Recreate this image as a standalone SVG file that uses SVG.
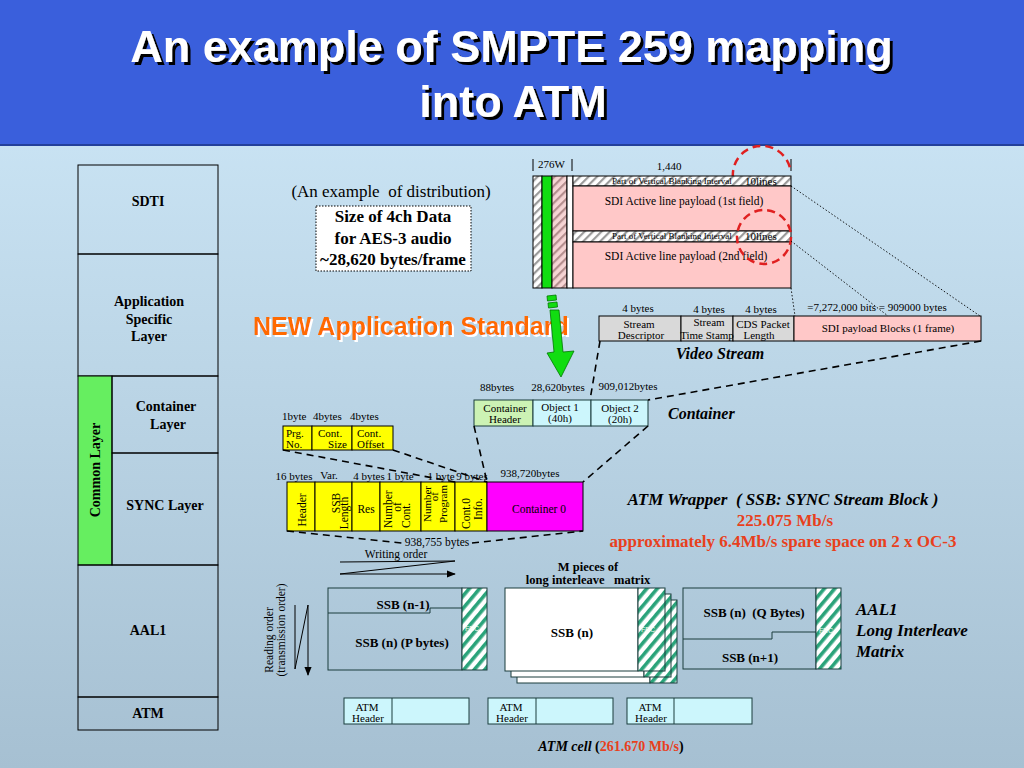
<svg xmlns="http://www.w3.org/2000/svg" width="1024" height="768" viewBox="0 0 1024 768">
<defs>
  <linearGradient id="bg" x1="0" y1="0" x2="0" y2="1">
    <stop offset="0" stop-color="#d0eafa"/>
    <stop offset="1" stop-color="#a6c0d2"/>
  </linearGradient>
  <pattern id="hGrey" patternUnits="userSpaceOnUse" width="6" height="6" patternTransform="rotate(45)">
    <rect width="6" height="6" fill="#ffffff"/><rect width="2.2" height="6" fill="#9a9a9a"/>
  </pattern>
  <pattern id="hPink" patternUnits="userSpaceOnUse" width="6" height="6" patternTransform="rotate(45)">
    <rect width="6" height="6" fill="#f6d4d4"/><rect width="2.2" height="6" fill="#b48e8e"/>
  </pattern>
  <pattern id="hFec" patternUnits="userSpaceOnUse" width="8" height="8" patternTransform="rotate(40)">
    <rect width="8" height="8" fill="#ffffff"/><rect width="3.6" height="8" fill="#2aa37a"/>
  </pattern>
  <marker id="arr" viewBox="0 0 10 10" refX="9" refY="5" markerWidth="9" markerHeight="9" orient="auto" markerUnits="userSpaceOnUse">
    <path d="M0,1 L10,5 L0,9 z" fill="#000"/>
  </marker>
  <filter id="shBlack" x="-5%" y="-20%" width="110%" height="140%">
    <feFlood flood-color="#000000"/>
    <feComposite in2="SourceAlpha" operator="in"/>
    <feOffset dx="3" dy="3" result="sh"/>
    <feMerge><feMergeNode in="sh"/><feMergeNode in="SourceGraphic"/></feMerge>
  </filter>
  <filter id="shWhite" x="-5%" y="-20%" width="110%" height="140%">
    <feFlood flood-color="#ffffff"/>
    <feComposite in2="SourceAlpha" operator="in"/>
    <feOffset dx="2" dy="2" result="sh"/>
    <feMerge><feMergeNode in="sh"/><feMergeNode in="SourceGraphic"/></feMerge>
  </filter>
</defs>
<style>
  .s{font-family:"Liberation Serif","Times New Roman",serif;fill:#000}
  .a{font-family:"Liberation Sans",Arial,sans-serif}
  .b{font-weight:bold}
  .i{font-style:italic}
  .c{text-anchor:middle}
  .e{text-anchor:end}
  .box{stroke:#000;stroke-width:1}
  .cell{stroke:#1a3c3c;stroke-width:1}
  .dash{stroke:#000;stroke-width:1.6;stroke-dasharray:7 5;fill:none}
  .dot{stroke:#000;stroke-width:0.9;stroke-dasharray:1.5 2;fill:none}
  .thin{stroke:#000;stroke-width:1;fill:none}
  .red{fill:#e8401c}
  .rc{stroke:#e02020;stroke-width:2.5;stroke-dasharray:8 5;fill:none}
</style>

<!-- background -->
<rect x="0" y="0" width="1024" height="768" fill="url(#bg)"/>
<rect x="0" y="0" width="1024" height="145" fill="#3a5fdc"/>
<line x1="0" y1="145" x2="1024" y2="145" stroke="#23409a" stroke-width="2"/>

<!-- title -->
<g id="title" class="a b c" font-size="45" fill="#fff" filter="url(#shBlack)">
  <text x="511.5" y="62">An example of SMPTE 259 mapping</text>
  <text x="513" y="117">into ATM</text>
</g>

<!-- left layer column -->
<g id="layer-sdti"><rect class="box" x="78" y="165" width="140" height="89" fill="none"/>
  <text class="s b c" x="148" y="206" font-size="14">SDTI</text></g>
<g id="layer-app"><rect class="box" x="78" y="254" width="140" height="122" fill="none"/>
  <text class="s b c" x="149" y="306" font-size="14">Application</text>
  <text class="s b c" x="149" y="324" font-size="14">Specific</text>
  <text class="s b c" x="149" y="341" font-size="14">Layer</text></g>
<g id="layer-common"><rect class="box" x="78" y="376" width="34" height="189" fill="#66ee60"/>
  <text class="s b c" font-size="14" transform="translate(100,470) rotate(-90)">Common Layer</text></g>
<g id="layer-container"><rect class="box" x="112" y="376" width="106" height="77" fill="none"/>
  <text class="s b c" x="166" y="411" font-size="14">Container</text>
  <text class="s b c" x="168" y="429" font-size="14">Layer</text></g>
<g id="layer-sync"><rect class="box" x="112" y="453" width="106" height="112" fill="none"/>
  <text class="s b c" x="165" y="510" font-size="14">SYNC Layer</text></g>
<g id="layer-aal1"><rect class="box" x="78" y="565" width="140" height="132" fill="none"/>
  <text class="s b c" x="148" y="635" font-size="14">AAL1</text></g>
<g id="layer-atm"><rect class="box" x="78" y="697" width="140" height="33" fill="none"/>
  <text class="s b c" x="148" y="718" font-size="14">ATM</text></g>

<!-- distribution note -->
<g id="note">
  <text class="s c" x="391" y="197" font-size="17" xml:space="preserve">(An example  of distribution)</text>
  <rect x="316" y="206" width="155" height="65" fill="#ffffff" stroke="#000" stroke-width="1" stroke-dasharray="1.5 1.5"/>
  <text class="s b c" x="393" y="222" font-size="17">Size of 4ch Data</text>
  <text class="s b c" x="393" y="244" font-size="17">for AES-3 audio</text>
  <text class="s b c" x="393" y="265" font-size="17">~28,620 bytes/frame</text>
</g>

<g id="new-standard" filter="url(#shWhite)">
  <text class="a b" x="253" y="335" font-size="25" fill="#ff6a00">NEW Application Standard</text>
</g>

<!-- SDI frame -->
<g id="sdi-frame">
  <line class="thin" x1="533" y1="159" x2="533" y2="171"/>
  <text class="s" x="538" y="168" font-size="11">276W</text>
  <line class="thin" x1="572" y1="159" x2="572" y2="171"/>
  <text class="s c" x="669" y="170" font-size="11">1,440</text>
  <line class="thin" x1="791" y1="159" x2="791" y2="171"/>
  <path class="rc" d="M733,178 A29,29 0 0 1 790,168"/>
  <rect class="box" x="533" y="176" width="9" height="112" fill="url(#hGrey)"/>
  <rect class="box" x="542" y="176" width="10" height="112" fill="#11dd11"/>
  <rect class="box" x="552" y="176" width="15" height="112" fill="url(#hPink)"/>
  <rect class="box" x="567" y="176" width="6" height="112" fill="#ffffff"/>
  <rect class="box" x="573" y="176" width="218" height="10" fill="url(#hGrey)"/>
  <rect class="box" x="573" y="186" width="218" height="45" fill="#ffc8c8"/>
  <rect class="box" x="573" y="231" width="218" height="11" fill="url(#hGrey)"/>
  <rect class="box" x="573" y="242" width="218" height="46" fill="#ffc8c8"/>
  <text class="s" x="612" y="184" font-size="9">Part of Vertical Blanking Interval</text>
  <text class="s" x="745" y="185" font-size="11">10lines</text>
  <text class="s" x="612" y="239" font-size="9">Part of Vertical Blanking Interval</text>
  <text class="s" x="745" y="240" font-size="11">10lines</text>
  <text class="s c" x="684" y="205" font-size="11.5">SDI Active line payload (1st field)</text>
  <text class="s c" x="686" y="260" font-size="11.5">SDI Active line payload (2nd field)</text>
  <circle class="rc" cx="764" cy="237" r="27"/>
</g>

<!-- video stream -->
<g id="video-stream">
  <text class="s c" x="638" y="312" font-size="11">4 bytes</text>
  <text class="s c" x="709" y="313" font-size="11">4 bytes</text>
  <text class="s c" x="761" y="313" font-size="11">4 bytes</text>
  <text class="s c" x="877" y="311" font-size="11">=7,272,000 bits = 909000 bytes</text>
  <rect class="box" x="599" y="316" width="82" height="25" fill="#d9d9d9"/>
  <rect class="box" x="681" y="316" width="52" height="25" fill="#d9d9d9"/>
  <rect class="box" x="733" y="316" width="61" height="25" fill="#d9d9d9"/>
  <rect class="box" x="794" y="316" width="187" height="25" fill="#ffc8c8"/>
  <text class="s c" x="639" y="328" font-size="11">Stream</text>
  <text class="s c" x="641" y="339" font-size="11">Descriptor</text>
  <text class="s c" x="709" y="326" font-size="11">Stream</text>
  <text class="s c" x="707" y="339" font-size="11">Time Stamp</text>
  <text class="s c" x="763" y="328" font-size="11">CDS Packet</text>
  <text class="s c" x="759" y="339" font-size="11">Length</text>
  <text class="s c" x="888" y="332" font-size="11">SDI payload Blocks (1 frame)</text>
  <text class="s b i c" x="720" y="359" font-size="16">Video Stream</text>
</g>

<!-- container -->
<g id="container">
  <text class="s c" x="497" y="391" font-size="11">88bytes</text>
  <text class="s c" x="558" y="391" font-size="11">28,620bytes</text>
  <text class="s c" x="628" y="390" font-size="11">909,012bytes</text>
  <rect class="cell" x="474" y="400" width="59" height="26" fill="#ccf2b4"/>
  <rect class="cell" x="533" y="400" width="58" height="26" fill="#ccf6fc"/>
  <rect class="cell" x="591" y="400" width="57" height="26" fill="#ccf6fc"/>
  <text class="s c" x="505" y="412" font-size="11">Container</text>
  <text class="s c" x="505" y="423" font-size="11">Header</text>
  <text class="s c" x="560" y="411" font-size="11">Object 1</text>
  <text class="s c" x="560" y="422" font-size="11">(40h)</text>
  <text class="s c" x="620" y="412" font-size="11">Object 2</text>
  <text class="s c" x="620" y="423" font-size="11">(20h)</text>
  <text class="s b i" x="668" y="419" font-size="16">Container</text>
</g>

<!-- green arrow -->
<g id="green-arrow" fill="#11dd11" stroke="#007700" stroke-width="0.8">
  <polygon points="547,296 556,295 556.5,300 547.5,301"/>
  <polygon points="548,303 557,302 557.5,307 548.5,308"/>
  <polygon points="550,310 559,310 563,352 574,351 561,377 547,353 554,352"/>
</g>

<!-- program table -->
<g id="program-info">
  <text class="s" x="282" y="420" font-size="11">1byte</text>
  <text class="s" x="313" y="420" font-size="11">4bytes</text>
  <text class="s" x="350" y="420" font-size="11">4bytes</text>
  <rect class="box" x="283" y="426" width="29" height="24" fill="#ffff00"/>
  <rect class="box" x="312" y="426" width="40" height="24" fill="#ffff00"/>
  <rect class="box" x="352" y="426" width="41" height="24" fill="#ffff00"/>
  <text class="s" x="286" y="437" font-size="11">Prg.</text>
  <text class="s" x="286" y="448" font-size="11">No.</text>
  <text class="s" x="318" y="437" font-size="11">Cont.</text>
  <text class="s e" x="347" y="448" font-size="11">Size</text>
  <text class="s" x="357" y="437" font-size="11">Cont.</text>
  <text class="s" x="357" y="448" font-size="11">Offset</text>
</g>

<!-- SSB -->
<g id="ssb">
  <text class="s c" x="294" y="480" font-size="11">16 bytes</text>
  <text class="s c" x="329" y="479" font-size="11">Var.</text>
  <text class="s c" x="369" y="480" font-size="11">4 bytes</text>
  <text class="s c" x="400" y="480" font-size="11">1 byte</text>
  <text class="s c" x="441" y="480" font-size="11">1 byte</text>
  <text class="s c" x="472" y="480" font-size="11">9 bytes</text>
  <text class="s c" x="530" y="477" font-size="11">938,720bytes</text>
  <rect class="box" x="287" y="482" width="28" height="49" fill="#ffff00"/>
  <rect class="box" x="315" y="482" width="37" height="49" fill="#ffff00"/>
  <rect class="box" x="352" y="482" width="28" height="49" fill="#ffff00"/>
  <rect class="box" x="380" y="482" width="41" height="49" fill="#ffff00"/>
  <rect class="box" x="421" y="482" width="34" height="49" fill="#ffff00"/>
  <rect class="box" x="455" y="482" width="32" height="49" fill="#ffff00"/>
  <rect class="box" x="487" y="482" width="96" height="49" fill="#ff00ff"/>
  <text class="s c" font-size="11.5" transform="translate(306,510) rotate(-90)">Header</text>
  <text class="s c" font-size="11.5" transform="translate(340,503) rotate(-90)">SSB</text>
  <text class="s c" font-size="11.5" transform="translate(348,513) rotate(-90)">Length</text>
  <text class="s c" x="366" y="513" font-size="11.5">Res</text>
  <text class="s" font-size="11.5" transform="translate(392,528) rotate(-90)">Number</text>
  <text class="s c" font-size="11.5" transform="translate(401,507) rotate(-90)">of</text>
  <text class="s" font-size="11.5" transform="translate(410,528) rotate(-90)">Cont.</text>
  <text class="s e" font-size="11" transform="translate(431,486) rotate(-90)">Number</text>
  <text class="s e" font-size="11" transform="translate(438,492) rotate(-90)">of</text>
  <text class="s e" font-size="11" transform="translate(447,485) rotate(-90)">Program</text>
  <text class="s e" font-size="11.5" transform="translate(470,498) rotate(-90)">Cont.0</text>
  <text class="s e" font-size="11.5" transform="translate(482,498) rotate(-90)">Info.</text>
  <text class="s c" x="539" y="513" font-size="11.5" fill="#7a007a">Container 0</text>
  <text class="s c" x="437" y="546" font-size="11.5">938,755 bytes</text>
</g>

<!-- ATM wrapper text -->
<g id="wrapper-label">
  <text class="s b i c" x="783" y="505" font-size="17" xml:space="preserve">ATM Wrapper  ( SSB: SYNC Stream Block )</text>
  <text class="s b c red" x="785" y="526" font-size="17">225.075 Mb/s</text>
  <text class="s b c red" x="783" y="547" font-size="17">approximately 6.4Mb/s spare space on 2 x OC-3</text>
</g>

<!-- order indicators -->
<g id="writing-order">
  <text class="s c" x="396" y="558" font-size="11.5">Writing order</text>
</g>
<g id="reading-order">
  <text class="s c" font-size="11.5" transform="translate(273,640) rotate(-90)">Reading order</text>
  <text class="s c" font-size="11.5" transform="translate(285,630) rotate(-90)">(transmission order)</text>
</g>

<!-- matrix 1 -->
<g id="matrix-1">
  <rect class="cell" x="328" y="588" width="134" height="82" fill="none"/>
  <rect class="cell" x="462" y="588" width="25" height="82" fill="url(#hFec)"/>
  <polyline class="cell" fill="none" points="328,613 430,613 430,608 462,608"/>
  <text class="s b c" x="403" y="609" font-size="13">SSB (n-1)</text>
  <text class="s b c" x="402" y="647" font-size="13">SSB (n) (P bytes)</text>
  <text class="a" x="465" y="631" font-size="7" fill="#f4fff4">FEC</text>
</g>

<!-- matrix 2 (M pieces) -->
<g id="matrix-2">
  <text class="s b c" x="588" y="571" font-size="12.5">M pieces of</text>
  <text class="s b c" x="588" y="584" font-size="12.5" xml:space="preserve">long interleave   matrix</text>
  <rect class="cell" x="517" y="600" width="133" height="83" fill="#ffffff"/>
  <rect class="cell" x="650" y="600" width="27" height="83" fill="url(#hFec)"/>
  <rect class="cell" x="511" y="594" width="133" height="83" fill="#ffffff"/>
  <rect class="cell" x="644" y="594" width="27" height="83" fill="url(#hFec)"/>
  <rect class="cell" x="505" y="588" width="133" height="83" fill="#ffffff"/>
  <rect class="cell" x="638" y="588" width="27" height="83" fill="url(#hFec)"/>
  <text class="s b c" x="572" y="637" font-size="13">SSB (n)</text>
  <text class="a" x="641" y="632" font-size="7" fill="#f4fff4">FEC</text>
</g>

<!-- matrix 3 -->
<g id="matrix-3">
  <rect class="cell" x="683" y="588" width="133" height="81" fill="none"/>
  <rect class="cell" x="816" y="588" width="25" height="81" fill="url(#hFec)"/>
  <polyline class="cell" fill="none" points="683,639 772,639 772,632 816,632"/>
  <text class="s b c" x="754" y="617" font-size="13" xml:space="preserve">SSB (n)  (Q Bytes)</text>
  <text class="s b c" x="750" y="662" font-size="13">SSB (n+1)</text>
  <text class="a" x="819" y="633" font-size="7" fill="#f4fff4">FEC</text>
  <text class="s b i" x="856" y="615" font-size="17">AAL1</text>
  <text class="s b i" x="856" y="636" font-size="17">Long Interleave</text>
  <text class="s b i" x="856" y="657" font-size="17">Matrix</text>
</g>

<!-- ATM cells -->
<g id="atm-cell-1">
  <rect class="cell" x="344" y="698" width="125" height="26" fill="#ccf6fc"/>
  <line class="cell" x1="392" y1="698" x2="392" y2="724"/>
  <text class="s c" x="367" y="711" font-size="11">ATM</text>
  <text class="s c" x="368" y="722" font-size="11">Header</text>
</g>
<g id="atm-cell-2">
  <rect class="cell" x="488" y="698" width="125" height="26" fill="#ccf6fc"/>
  <line class="cell" x1="536" y1="698" x2="536" y2="724"/>
  <text class="s c" x="511" y="711" font-size="11">ATM</text>
  <text class="s c" x="512" y="722" font-size="11">Header</text>
</g>
<g id="atm-cell-3">
  <rect class="cell" x="627" y="698" width="125" height="26" fill="#ccf6fc"/>
  <line class="cell" x1="674" y1="698" x2="674" y2="724"/>
  <text class="s c" x="650" y="711" font-size="11">ATM</text>
  <text class="s c" x="651" y="722" font-size="11">Header</text>
</g>
<g id="atm-cell-label">
  <text class="s b c" x="611" y="751" font-size="14"><tspan font-style="italic">ATM cell </tspan>(<tspan fill="#e8401c">261.670 Mb/s</tspan>)</text>
</g>

<!-- connectors -->
<g id="connectors">
  <line class="dot" x1="791" y1="186" x2="980" y2="316"/>
  <line class="dot" x1="791" y1="241" x2="888" y2="316"/>
  <line class="dot" x1="791" y1="288" x2="795" y2="316"/>
  <line class="dash" x1="600" y1="341" x2="590" y2="400"/>
  <line class="dash" x1="981" y1="341" x2="648" y2="400"/>
  <line class="dash" x1="474" y1="426" x2="487" y2="482"/>
  <line class="dash" x1="648" y1="426" x2="583" y2="482"/>
  <line class="dash" x1="283" y1="450" x2="455" y2="482"/>
  <line class="dash" x1="393" y1="450" x2="487" y2="482"/>
  <line class="dash" x1="287" y1="531" x2="402" y2="543"/>
  <line class="dash" x1="472" y1="543" x2="583" y2="531"/>
  <polyline class="thin" points="340,562 455,561 340,574"/>
  <line class="thin" x1="340" y1="574" x2="455" y2="574" marker-end="url(#arr)"/>
  <polyline class="thin" points="295,605 295,669 308,605"/>
  <line class="thin" x1="308" y1="605" x2="308" y2="675" marker-end="url(#arr)"/>
</g>
</svg>
